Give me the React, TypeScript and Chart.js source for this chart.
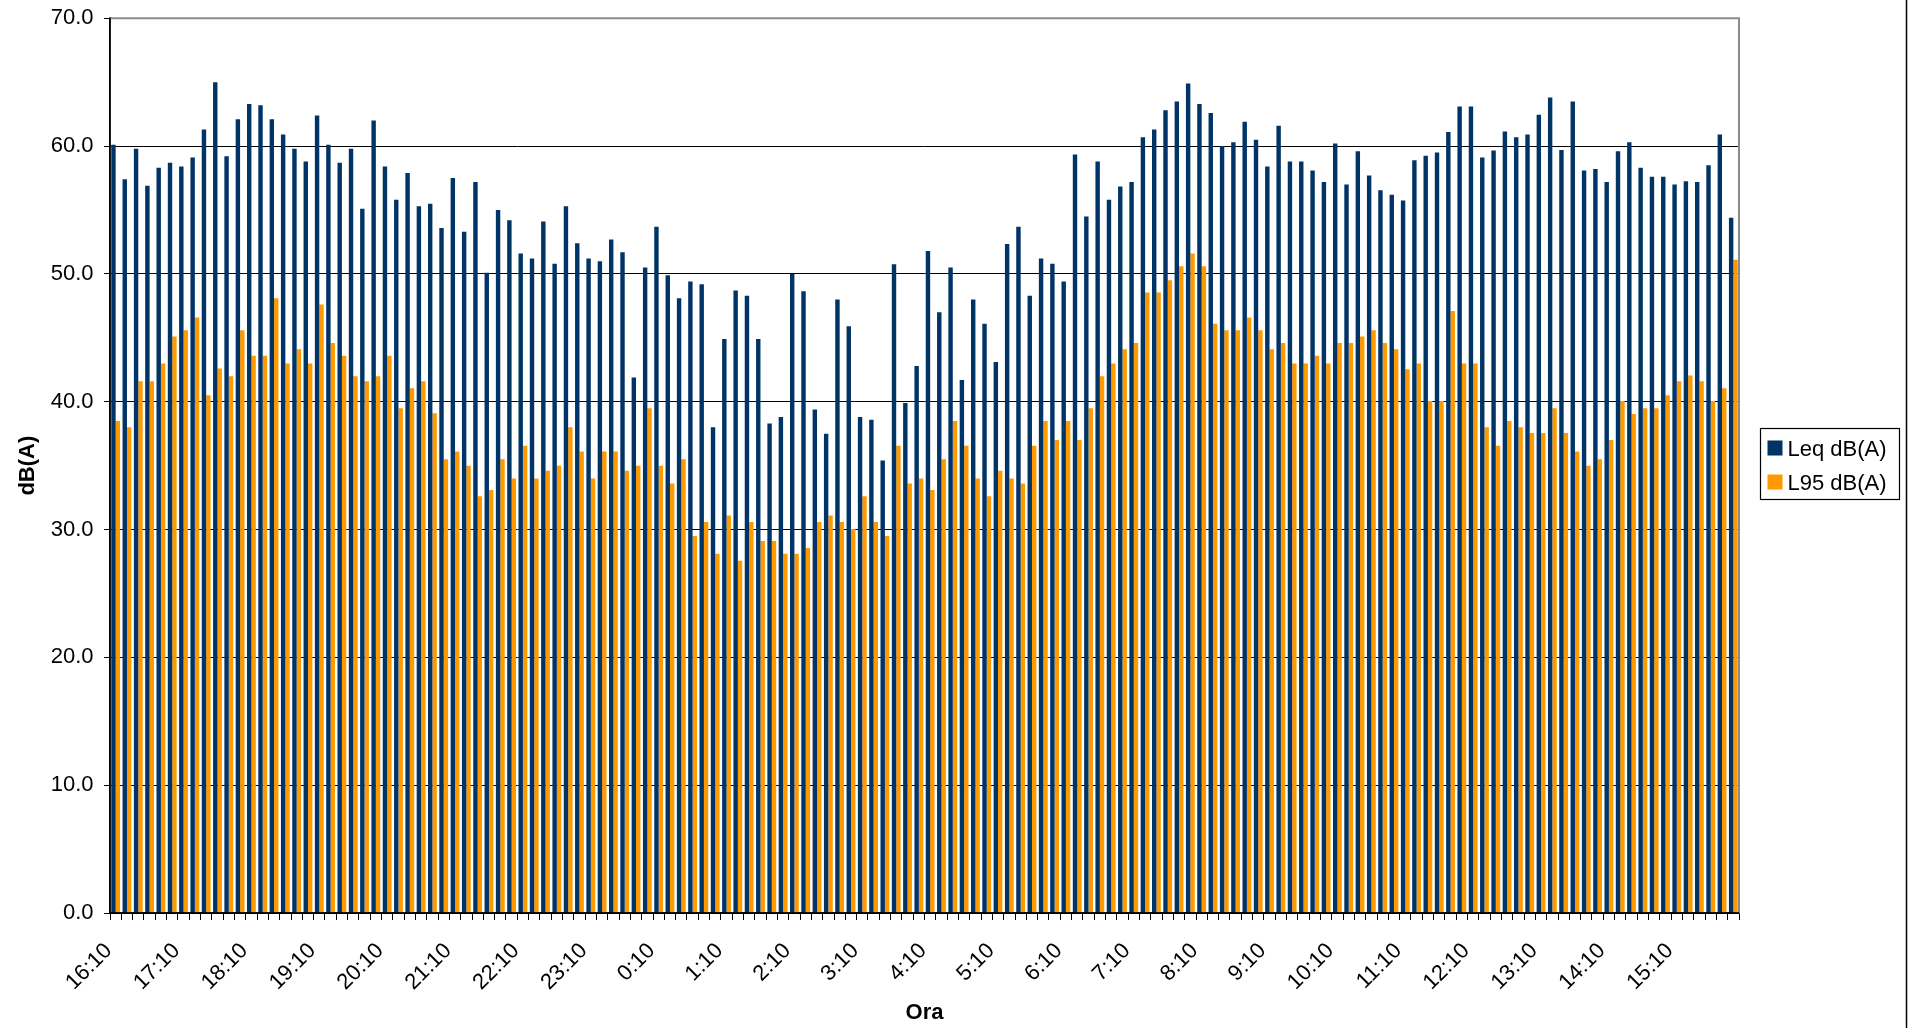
import React, { useEffect, useRef } from 'react';
import { Chart, registerables } from 'chart.js';

Chart.register(...registerables);

const categories: string[] = [
  '16:10', '16:20', '16:30', '16:40', '16:50', '17:00',
  '17:10', '17:20', '17:30', '17:40', '17:50', '18:00',
  '18:10', '18:20', '18:30', '18:40', '18:50', '19:00',
  '19:10', '19:20', '19:30', '19:40', '19:50', '20:00',
  '20:10', '20:20', '20:30', '20:40', '20:50', '21:00',
  '21:10', '21:20', '21:30', '21:40', '21:50', '22:00',
  '22:10', '22:20', '22:30', '22:40', '22:50', '23:00',
  '23:10', '23:20', '23:30', '23:40', '23:50', '0:00',
  '0:10', '0:20', '0:30', '0:40', '0:50', '1:00',
  '1:10', '1:20', '1:30', '1:40', '1:50', '2:00',
  '2:10', '2:20', '2:30', '2:40', '2:50', '3:00',
  '3:10', '3:20', '3:30', '3:40', '3:50', '4:00',
  '4:10', '4:20', '4:30', '4:40', '4:50', '5:00',
  '5:10', '5:20', '5:30', '5:40', '5:50', '6:00',
  '6:10', '6:20', '6:30', '6:40', '6:50', '7:00',
  '7:10', '7:20', '7:30', '7:40', '7:50', '8:00',
  '8:10', '8:20', '8:30', '8:40', '8:50', '9:00',
  '9:10', '9:20', '9:30', '9:40', '9:50', '10:00',
  '10:10', '10:20', '10:30', '10:40', '10:50', '11:00',
  '11:10', '11:20', '11:30', '11:40', '11:50', '12:00',
  '12:10', '12:20', '12:30', '12:40', '12:50', '13:00',
  '13:10', '13:20', '13:30', '13:40', '13:50', '14:00',
  '14:10', '14:20', '14:30', '14:40', '14:50', '15:00',
  '15:10', '15:20', '15:30', '15:40', '15:50', '16:00',
];

const shownTickLabels: string[] = [
  '16:10', '17:10', '18:10', '19:10', '20:10', '21:10', '22:10', '23:10',
  '0:10', '1:10', '2:10', '3:10', '4:10', '5:10', '6:10', '7:10',
  '8:10', '9:10', '10:10', '11:10', '12:10', '13:10', '14:10', '15:10',
];

const leqValues: number[] = [
  60.1, 57.4, 59.8, 56.9, 58.3, 58.7,
  58.4, 59.1, 61.3, 65.0, 59.2, 62.1,
  63.3, 63.2, 62.1, 60.9, 59.8, 58.8,
  62.4, 60.1, 58.7, 59.8, 55.1, 62.0,
  58.4, 55.8, 57.9, 55.3, 55.5, 53.6,
  57.5, 53.3, 57.2, 50.1, 55.0, 54.2,
  51.6, 51.2, 54.1, 50.8, 55.3, 52.4,
  51.2, 51.0, 52.7, 51.7, 41.9, 50.5,
  53.7, 49.9, 48.1, 49.4, 49.2, 38.0,
  44.9, 48.7, 48.3, 44.9, 38.3, 38.8,
  50.0, 48.65, 39.4, 37.5, 48.0, 45.9,
  38.8, 38.6, 35.4, 50.75, 39.9, 42.8,
  51.8, 47.0, 50.5, 41.7, 48.0, 46.1,
  43.1, 52.35, 53.7, 48.3, 51.2, 50.8,
  49.4, 59.35, 54.5, 58.8, 55.8, 56.85,
  57.2, 60.7, 61.3, 62.8, 63.5, 64.9,
  63.3, 62.6, 60.0, 60.3, 61.9, 60.5,
  58.4, 61.6, 58.8, 58.8, 58.1, 57.2,
  60.2, 57.0, 59.6, 57.7, 56.55, 56.2,
  55.75, 58.9, 59.25, 59.5, 61.1, 63.1,
  63.1, 59.1, 59.65, 61.15, 60.7, 60.9,
  62.45, 63.8, 59.7, 63.5, 58.1, 58.2,
  57.2, 59.6, 60.3, 58.3, 57.6, 57.6,
  57.0, 57.25, 57.2, 58.5, 60.9, 54.4,
];

const l95Values: number[] = [
  38.5, 38.0, 41.6, 41.6, 43.0, 45.1,
  45.6, 46.6, 40.5, 42.6, 42.0, 45.6,
  43.6, 43.6, 48.1, 43.0, 44.1, 43.0,
  47.6, 44.6, 43.6, 42.0, 41.6, 42.0,
  43.6, 39.5, 41.05, 41.6, 39.1, 35.5,
  36.1, 35.0, 32.6, 33.1, 35.5, 34.0,
  36.55, 34.0, 34.6, 35.0, 38.0, 36.1,
  34.0, 36.1, 36.1, 34.6, 35.0, 39.5,
  35.0, 33.6, 35.5, 29.5, 30.6, 28.1,
  31.1, 27.55, 30.6, 29.1, 29.1, 28.1,
  28.1, 28.55, 30.6, 31.1, 30.6, 30.05,
  32.6, 30.6, 29.5, 36.55, 33.6, 34.0,
  33.1, 35.5, 38.5, 36.55, 34.0, 32.6,
  34.6, 34.0, 33.6, 36.55, 38.5, 37.0,
  38.5, 37.0, 39.5, 42.0, 43.0, 44.1,
  44.6, 48.55, 48.55, 49.5, 50.6, 51.6,
  50.6, 46.1, 45.6, 45.6, 46.6, 45.6,
  44.1, 44.6, 43.0, 43.0, 43.6, 43.0,
  44.6, 44.6, 45.1, 45.6, 44.6, 44.1,
  42.55, 43.0, 40.05, 40.05, 47.1, 43.0,
  43.0, 38.0, 36.55, 38.5, 38.0, 37.55,
  37.55, 39.5, 37.55, 36.1, 35.0, 35.5,
  37.0, 40.05, 39.05, 39.5, 39.5, 40.5,
  41.6, 42.05, 41.6, 40.05, 41.05, 51.1,
];

const seriesNames: string[] = ['Leq dB(A)', 'L95 dB(A)'];
const seriesColors: string[] = ['#003366', '#FF9900'];
const xAxisTitle = 'Ora';
const yAxisTitle = 'dB(A)';

const FONT = "'Liberation Sans', Arial, Helvetica, sans-serif";
const FONT_SIZE = 22;

const decorPlugin = {
  id: 'excelDecor',
  afterDatasetsDraw(chart: any) {
    const { ctx, chartArea } = chart;
    ctx.save();
    ctx.strokeStyle = '#8c8c8c';
    ctx.lineWidth = 2;
    ctx.beginPath();
    ctx.moveTo(chartArea.left, chartArea.top);
    ctx.lineTo(chartArea.right, chartArea.top);
    ctx.lineTo(chartArea.right, chartArea.bottom);
    ctx.stroke();
    ctx.strokeStyle = '#000';
    ctx.lineWidth = 1.5;
    ctx.beginPath();
    ctx.moveTo(chartArea.left, chartArea.top - 1);
    ctx.lineTo(chartArea.left, chartArea.bottom);
    ctx.lineTo(chartArea.right, chartArea.bottom);
    ctx.stroke();
    ctx.restore();
  },
  afterDraw(chart: any) {
    const { ctx } = chart;
    ctx.save();
    // outer chart frame (right edge)
    ctx.strokeStyle = '#000';
    ctx.lineWidth = 1.5;
    ctx.beginPath();
    ctx.moveTo(1906.5, 0);
    ctx.lineTo(1906.5, chart.height);
    ctx.stroke();
    // legend box
    const lx = 1760.5;
    const ly = 428.5;
    const lw = 139;
    const lh = 71;
    ctx.fillStyle = '#fff';
    ctx.fillRect(lx, ly, lw, lh);
    ctx.lineWidth = 1.2;
    ctx.strokeRect(lx, ly, lw, lh);
    ctx.font = `${FONT_SIZE}px ${FONT}`;
    ctx.textBaseline = 'middle';
    ctx.textAlign = 'left';
    seriesNames.forEach((name, i) => {
      const cy = ly + 20 + i * 34;
      ctx.fillStyle = seriesColors[i];
      ctx.fillRect(lx + 7, cy - 8, 15, 15);
      ctx.fillStyle = '#000';
      ctx.fillText(name, lx + 27, cy + 1);
    });
    ctx.restore();
  },
};

export default function App() {
  const canvasRef = useRef<HTMLCanvasElement | null>(null);

  useEffect(() => {
    const canvas = canvasRef.current;
    if (!canvas) return;
    const chart = new Chart(canvas, {
      type: 'bar',
      data: {
        labels: categories,
        datasets: [
          {
            label: seriesNames[0],
            data: leqValues,
            backgroundColor: seriesColors[0],
            borderWidth: 0,
            categoryPercentage: 0.78,
            barPercentage: 1.0,
          },
          {
            label: seriesNames[1],
            data: l95Values,
            backgroundColor: seriesColors[1],
            borderWidth: 0,
            categoryPercentage: 0.78,
            barPercentage: 1.0,
          },
        ],
      },
      options: {
        responsive: false,
        animation: false,
        devicePixelRatio: 1,
        events: [],
        layout: {
          padding: { top: 18.3, right: 173, bottom: 0, left: 0 },
        },
        plugins: {
          legend: { display: false },
          tooltip: { enabled: false },
          title: { display: false },
        },
        scales: {
          x: {
            type: 'category',
            offset: true,
            afterFit: (scale: any) => {
              scale.height = 115;
              scale.paddingLeft = 0;
              scale.paddingRight = 0;
              scale.paddingTop = 0;
              scale.paddingBottom = 0;
            },
            grid: {
              display: true,
              offset: true,
              drawOnChartArea: false,
              drawTicks: true,
              tickLength: 7,
              tickColor: '#000',
              tickWidth: 1,
            },
            border: { display: true, color: '#000', width: 1.5 },
            ticks: {
              autoSkip: false,
              minRotation: 45,
              maxRotation: 45,
              padding: 18,
              labelOffset: -7,
              color: '#000',
              font: { family: FONT, size: FONT_SIZE },
              callback: (_v: any, idx: number) =>
                shownTickLabels.includes(categories[idx]) ? categories[idx] : '',
            },
            title: {
              display: true,
              text: xAxisTitle,
              color: '#000',
              font: { family: FONT, size: FONT_SIZE, weight: 'bold' },
              padding: { top: 0, bottom: 2 },
            },
          },
          y: {
            min: 0,
            max: 70,
            afterFit: (scale: any) => {
              scale.width = 110;
              scale.paddingTop = 0;
              scale.paddingBottom = 0;
              scale.paddingLeft = 0;
              scale.paddingRight = 0;
            },
            grid: {
              display: true,
              color: '#000',
              lineWidth: 1,
              drawTicks: true,
              tickLength: 6,
              tickColor: '#000',
            },
            border: { display: true, color: '#000', width: 1.5 },
            ticks: {
              stepSize: 10,
              padding: 10.5,
              color: '#000',
              font: { family: FONT, size: FONT_SIZE },
              callback: (v: any) => Number(v).toFixed(1),
            },
            title: {
              display: true,
              text: yAxisTitle,
              color: '#000',
              font: { family: FONT, size: FONT_SIZE, weight: 'bold' },
              padding: { top: 15, bottom: 0 },
            },
          },
        },
      },
      plugins: [decorPlugin],
    } as any);
    return () => {
      chart.destroy();
    };
  }, []);

  return (
    <div
      style={{
        position: 'fixed',
        left: 0,
        top: 0,
        width: 1912,
        height: 1028,
        background: '#fff',
      }}
    >
      <canvas
        ref={canvasRef}
        width={1912}
        height={1028}
        style={{ display: 'block', width: 1912, height: 1028 }}
      />
    </div>
  );
}
